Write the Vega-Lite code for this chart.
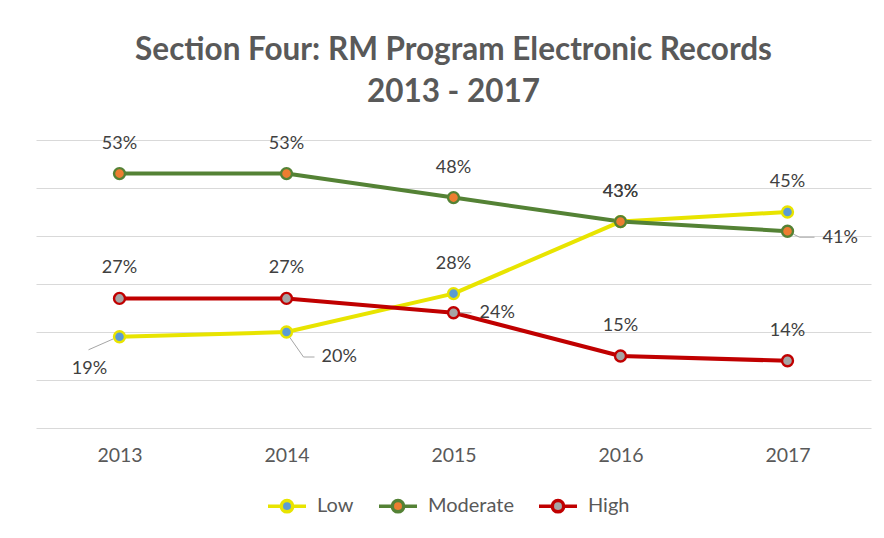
{
  "$schema": "https://vega.github.io/schema/vega-lite/v6.json",
  "width": 835,
  "height": 288,
  "autosize": {"type": "none"},
  "padding": {"left": 36, "top": 140, "right": 13, "bottom": 110},
  "background": "white",
  "config": {
    "font": "Lato",
    "view": {"stroke": null}
  },
  "title": {
    "text": ["Section Four: RM Program Electronic Records", "2013 - 2017"],
    "fontSize": 31.5,
    "fontWeight": "bold",
    "color": "#595959",
    "lineHeight": 42,
    "anchor": "middle",
    "frame": "group",
    "offset": 26
  },
  "data": {
    "values": [
      {"year": "2013", "series": "Low", "value": 0.19},
      {"year": "2014", "series": "Low", "value": 0.20},
      {"year": "2015", "series": "Low", "value": 0.28},
      {"year": "2016", "series": "Low", "value": 0.43},
      {"year": "2017", "series": "Low", "value": 0.45},
      {"year": "2013", "series": "Moderate", "value": 0.53},
      {"year": "2014", "series": "Moderate", "value": 0.53},
      {"year": "2015", "series": "Moderate", "value": 0.48},
      {"year": "2016", "series": "Moderate", "value": 0.43},
      {"year": "2017", "series": "Moderate", "value": 0.41},
      {"year": "2013", "series": "High", "value": 0.27},
      {"year": "2014", "series": "High", "value": 0.27},
      {"year": "2015", "series": "High", "value": 0.24},
      {"year": "2016", "series": "High", "value": 0.15},
      {"year": "2017", "series": "High", "value": 0.14}
    ]
  },
  "encoding": {
    "x": {
      "field": "year",
      "type": "ordinal",
      "scale": {"type": "point", "padding": 0.5},
      "axis": {
        "title": null,
        "labelAngle": 0,
        "domain": false,
        "ticks": false,
        "grid": false,
        "labelPadding": 18,
        "labelFontSize": 19.5,
        "labelColor": "#595959"
      }
    },
    "y": {
      "field": "value",
      "type": "quantitative",
      "scale": {"domain": [0, 0.6], "nice": false, "zero": true},
      "axis": {
        "title": null,
        "labels": false,
        "ticks": false,
        "domain": false,
        "values": [0, 0.1, 0.2, 0.3, 0.4, 0.5, 0.6],
        "gridColor": "#d9d9d9",
        "gridWidth": 1
      }
    }
  },
  "layer": [
    {
      "mark": {"type": "line", "strokeWidth": 4, "strokeCap": "round", "strokeJoin": "round"},
      "encoding": {
        "stroke": {
          "field": "series",
          "type": "nominal",
          "scale": {"domain": ["Low", "Moderate", "High"], "range": ["#e8e400", "#548235", "#c00000"]},
          "legend": {
            "title": null,
            "orient": "none",
            "legendX": 230,
            "legendY": 345,
            "direction": "horizontal",
            "symbolType": "M-1,0L-0.3,0M0.3,0L1,0M-0.3,0A0.3,0.3,0,1,1,0.3,0A0.3,0.3,0,1,1,-0.3,0Z",
            "symbolSize": 1444,
            "symbolStrokeWidth": 3.5,
            "labelFontSize": 20,
            "labelColor": "#595959",
            "labelOffset": 9,
            "columnPadding": 18
          }
        },
        "detail": {"field": "series"}
      }
    },
    {
      "transform": [{"filter": "datum.series === 'Low' && datum.year === '2013'"}],
      "mark": {"type": "rule", "color": "#a6a6a6", "strokeWidth": 1, "xOffset": -6, "yOffset": 2, "x2Offset": -31, "y2Offset": 13},
      "encoding": {"x2": {"field": "year"}, "y2": {"field": "value"}}
    },
    {
      "transform": [{"filter": "datum.series === 'Low' && datum.year === '2014'"}],
      "mark": {"type": "rule", "color": "#a6a6a6", "strokeWidth": 1, "xOffset": 3, "yOffset": 5, "x2Offset": 17, "y2Offset": 25},
      "encoding": {"x2": {"field": "year"}, "y2": {"field": "value"}}
    },
    {
      "transform": [{"filter": "datum.series === 'Low' && datum.year === '2014'"}],
      "mark": {"type": "rule", "color": "#a6a6a6", "strokeWidth": 1, "xOffset": 17, "yOffset": 25, "x2Offset": 28, "y2Offset": 25},
      "encoding": {"x2": {"field": "year"}, "y2": {"field": "value"}}
    },
    {
      "transform": [{"filter": "datum.series === 'High' && datum.year === '2015'"}],
      "mark": {"type": "rule", "color": "#a6a6a6", "strokeWidth": 1, "xOffset": 5, "yOffset": 0, "x2Offset": 18, "y2Offset": 0},
      "encoding": {"x2": {"field": "year"}, "y2": {"field": "value"}}
    },
    {
      "transform": [{"filter": "datum.series === 'Moderate' && datum.year === '2017'"}],
      "mark": {"type": "rule", "color": "#a6a6a6", "strokeWidth": 1, "xOffset": 6, "yOffset": 3, "x2Offset": 12, "y2Offset": 6},
      "encoding": {"x2": {"field": "year"}, "y2": {"field": "value"}}
    },
    {
      "transform": [{"filter": "datum.series === 'Moderate' && datum.year === '2017'"}],
      "mark": {"type": "rule", "color": "#a6a6a6", "strokeWidth": 1, "xOffset": 12, "yOffset": 6, "x2Offset": 27, "y2Offset": 6},
      "encoding": {"x2": {"field": "year"}, "y2": {"field": "value"}}
    },
    {
      "mark": {"type": "point", "filled": true, "shape": "circle", "size": 120, "strokeWidth": 2.4, "opacity": 1},
      "encoding": {
        "stroke": {"field": "series", "type": "nominal"},
        "fill": {
          "field": "series",
          "type": "nominal",
          "scale": {"domain": ["Low", "Moderate", "High"], "range": ["#5b9bd5", "#ed7d31", "#a5a5a5"]},
          "legend": {
            "title": null,
            "orient": "none",
            "legendX": 230,
            "legendY": 345,
            "direction": "horizontal",
            "symbolType": "M-1,0L-0.3,0M0.3,0L1,0M-0.3,0A0.3,0.3,0,1,1,0.3,0A0.3,0.3,0,1,1,-0.3,0Z",
            "symbolSize": 1444,
            "symbolStrokeWidth": 3.5,
            "labelFontSize": 20,
            "labelColor": "#595959",
            "labelOffset": 9,
            "columnPadding": 18
          }
        }
      }
    },
    {
      "transform": [{"filter": "!((datum.series === 'Low' && (datum.year === '2013' || datum.year === '2014')) || (datum.series === 'Moderate' && datum.year === '2017') || (datum.series === 'High' && datum.year === '2015'))"}],
      "mark": {"type": "text", "fontSize": 18, "color": "#404040", "dy": -30, "baseline": "middle"},
      "encoding": {"text": {"field": "value", "type": "quantitative", "format": ".0%"}}
    },
    {
      "transform": [{"filter": "datum.series === 'Low' && datum.year === '2013'"}],
      "mark": {"type": "text", "fontSize": 18, "color": "#404040", "dx": -30, "dy": 32, "baseline": "middle"},
      "encoding": {"text": {"field": "value", "type": "quantitative", "format": ".0%"}}
    },
    {
      "transform": [{"filter": "datum.series === 'Low' && datum.year === '2014'"}],
      "mark": {"type": "text", "fontSize": 18, "color": "#404040", "align": "left", "dx": 35, "dy": 25, "baseline": "middle"},
      "encoding": {"text": {"field": "value", "type": "quantitative", "format": ".0%"}}
    },
    {
      "transform": [{"filter": "datum.series === 'High' && datum.year === '2015'"}],
      "mark": {"type": "text", "fontSize": 18, "color": "#404040", "align": "left", "dx": 26, "dy": 0, "baseline": "middle"},
      "encoding": {"text": {"field": "value", "type": "quantitative", "format": ".0%"}}
    },
    {
      "transform": [{"filter": "datum.series === 'Moderate' && datum.year === '2017'"}],
      "mark": {"type": "text", "fontSize": 18, "color": "#404040", "align": "left", "dx": 35, "dy": 7, "baseline": "middle"},
      "encoding": {"text": {"field": "value", "type": "quantitative", "format": ".0%"}}
    }
  ]
}
